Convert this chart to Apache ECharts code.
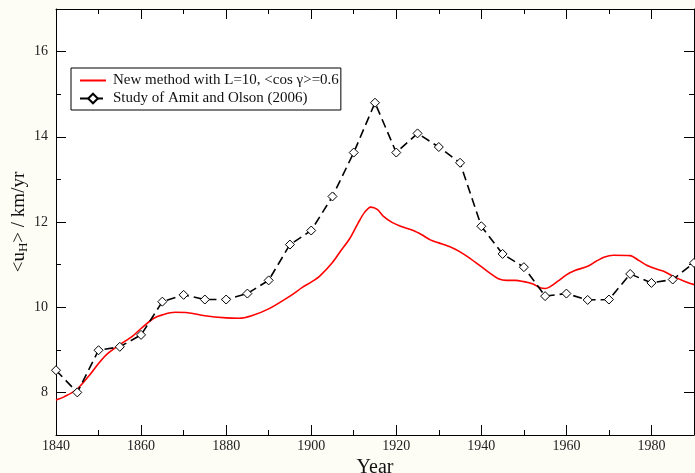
<!DOCTYPE html>
<html>
<head>
<meta charset="utf-8">
<script src="https://cdn.jsdelivr.net/npm/echarts@6/dist/echarts.min.js"></script>
<style>
  html, body { margin: 0; padding: 0; background: #fdfdf6; }
  #chart { width: 695px; height: 473px; }
</style>
</head>
<body>
<div id="chart"></div>
<script>
  // 新方法 L=10 的曲线 (年份, 速度)
  var newYears = [1840, 1842, 1845, 1848, 1850, 1852, 1855, 1858, 1860, 1863, 1865, 1868, 1871, 1875, 1880, 1883, 1886, 1890, 1895, 1898,
    1900, 1902, 1905, 1907, 1909, 1911, 1912.5, 1914, 1915.6, 1917, 1919, 1921, 1924, 1926, 1928, 1930, 1933, 1935, 1937, 1940, 1942, 1944,
    1946, 1948, 1950, 1952, 1954, 1955, 1956, 1958, 1960, 1962, 1965, 1967, 1969, 1971, 1975, 1977, 1979, 1981, 1983, 1985, 1988, 1990];
  var newValues = [7.82, 7.9, 8.08, 8.42, 8.68, 8.9, 9.12, 9.32, 9.5, 9.74, 9.82, 9.88, 9.87, 9.8, 9.75, 9.74, 9.8, 9.96, 10.26, 10.47,
    10.59, 10.73, 11.05, 11.33, 11.6, 11.97, 12.22, 12.35, 12.29, 12.13, 11.99, 11.9, 11.8, 11.7, 11.58, 11.51, 11.4, 11.3, 11.17, 10.95, 10.8, 10.67,
    10.63, 10.63, 10.6, 10.55, 10.45, 10.44, 10.47, 10.61, 10.76, 10.86, 10.96, 11.08, 11.18, 11.22, 11.21, 11.1, 10.98, 10.9, 10.84, 10.73, 10.6, 10.53];

  // Amit and Olson (2006)
  var amitYears = [1840, 1845, 1850, 1855, 1860, 1865, 1870, 1875, 1880, 1885, 1890, 1895, 1900, 1905, 1910, 1915,
    1920, 1925, 1930, 1935, 1940, 1945, 1950, 1955, 1960, 1965, 1970, 1975, 1980, 1985, 1990];
  var amitValues = [8.52, 8.0, 8.99, 9.07, 9.35, 10.13, 10.29, 10.18, 10.18, 10.32, 10.63, 11.47, 11.8, 12.6, 13.63, 14.8,
    13.63, 14.08, 13.76, 13.39, 11.9, 11.25, 10.94, 10.26, 10.32, 10.17, 10.18, 10.78, 10.57, 10.65, 11.04];

  var yMajorTicks = [8, 10, 12, 14, 16];
  var seriesNames = ['New method with L=10, <cos \u03b3>=0.6', 'Study of Amit and Olson (2006)'];

  var font = 'Liberation Serif';

  function pairs(xs, ys) {
    var out = [];
    for (var i = 0; i < xs.length; i++) {
      out.push([xs[i], ys[i]]);
    }
    return out;
  }

  var chart = echarts.init(document.getElementById('chart'));

  var xBase = {
    type: 'value',
    min: 1840,
    max: 1990,
    interval: 20,
    axisLine: { show: true, lineStyle: { color: '#000', width: 1 } },
    axisTick: { show: true, inside: true, length: 10, lineStyle: { color: '#000' } },
    minorTick: { show: true, splitNumber: 2, length: 5, lineStyle: { color: '#000' } },
    splitLine: { show: false },
    minorSplitLine: { show: false }
  };

  var yMinor = {
    type: 'value',
    min: 7,
    max: 17,
    interval: 1,
    axisLine: { show: true, lineStyle: { color: '#000', width: 1 } },
    axisTick: { show: true, inside: true, length: 5, lineStyle: { color: '#000' } },
    splitLine: { show: false }
  };

  var yMajor = {
    type: 'value',
    min: 7,
    max: 17,
    axisLine: { show: false },
    axisTick: { show: true, inside: true, length: 10, customValues: yMajorTicks, lineStyle: { color: '#000' } },
    axisLabel: { show: false },
    splitLine: { show: false }
  };

  var option = {
    backgroundColor: '#fdfdf6',
    animation: false,
    grid: {
      left: 56, right: 1, top: 9, bottom: 38,
      outerBoundsMode: 'none',
      containLabel: false,
      show: true, backgroundColor: '#fff', borderWidth: 0
    },
    legend: {
      orient: 'vertical',
      left: 71,
      top: 68,
      padding: [5, 2, 4, 8],
      itemGap: 3,
      itemWidth: 26,
      itemHeight: 12,
      backgroundColor: '#fff',
      borderColor: '#000',
      borderWidth: 1,
      borderRadius: 0,
      textStyle: { fontFamily: font, fontSize: 15, color: '#111', padding: [0, 0, 0, 2] },
      data: [
        { name: seriesNames[0], itemStyle: { opacity: 0 } },
        { name: seriesNames[1] }
      ]
    },
    xAxis: [
      Object.assign({}, xBase, {
        position: 'bottom',
        name: 'Year',
        nameLocation: 'middle',
        nameGap: 20,
        nameTextStyle: { fontFamily: font, fontSize: 20, color: '#111' },
        axisLabel: {
          show: true, margin: 4, showMaxLabel: false, fontFamily: font, fontSize: 14, color: '#222',
          formatter: function (v) { return String(v); }
        }
      }),
      Object.assign({}, xBase, { position: 'top', axisLabel: { show: false } })
    ],
    yAxis: [
      Object.assign({}, yMinor, {
        position: 'left',
        name: '<u{sub|H}> / km/yr',
        nameLocation: 'middle',
        nameGap: 26,
        nameMoveOverlap: false,
        nameTextStyle: {
          fontFamily: font, fontSize: 19, color: '#111',
          rich: { sub: { fontFamily: font, fontSize: 13, color: '#111', padding: [9, 0, 0, 0] } }
        },
        axisLabel: {
          show: true, margin: 8, fontFamily: font, fontSize: 14, color: '#222',
          formatter: function (v) { return yMajorTicks.indexOf(v) >= 0 ? String(v) : ''; }
        }
      }),
      Object.assign({}, yMinor, { position: 'right', axisLabel: { show: false } }),
      Object.assign({}, yMajor, { position: 'left' }),
      Object.assign({}, yMajor, { position: 'right' })
    ],
    series: [
      {
        name: seriesNames[0],
        type: 'line',
        smooth: 0.3,
        showSymbol: false,
        symbol: 'none',
        xAxisIndex: 0,
        yAxisIndex: 0,
        lineStyle: { color: '#ff0000', width: 1.6 },
        itemStyle: { color: '#ff0000' },
        data: pairs(newYears, newValues)
      },
      {
        name: seriesNames[1],
        type: 'line',
        xAxisIndex: 0,
        yAxisIndex: 0,
        symbol: 'diamond',
        symbolSize: 9,
        lineStyle: { color: '#000', width: 1.6, type: [9, 5] },
        itemStyle: { color: '#fff', borderColor: '#000', borderWidth: 1 },
        data: pairs(amitYears, amitValues)
      }
    ]
  };

  chart.setOption(option);
</script>
</body>
</html>
